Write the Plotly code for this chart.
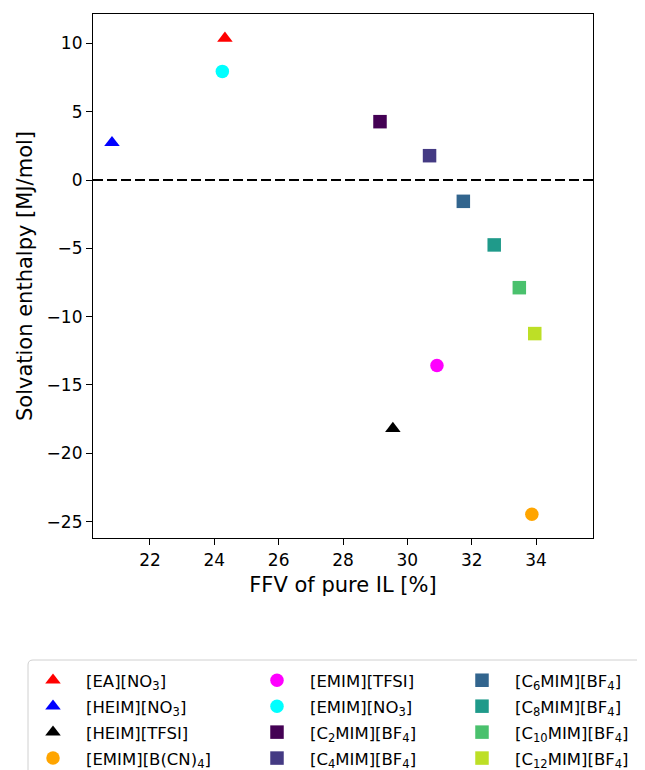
import plotly.graph_objects as go

# ---- data ----
names = ["[EA][NO<sub>3</sub>]", "[HEIM][NO<sub>3</sub>]", "[HEIM][TFSI]", "[EMIM][B(CN)<sub>4</sub>]",
         "[EMIM][TFSI]", "[EMIM][NO<sub>3</sub>]", "[C<sub>2</sub>MIM][BF<sub>4</sub>]", "[C<sub>4</sub>MIM][BF<sub>4</sub>]",
         "[C<sub>6</sub>MIM][BF<sub>4</sub>]", "[C<sub>8</sub>MIM][BF<sub>4</sub>]", "[C<sub>10</sub>MIM][BF<sub>4</sub>]", "[C<sub>12</sub>MIM][BF<sub>4</sub>]"]
ffv = [24.33, 20.82, 29.55, 33.87, 30.92, 24.25, 29.15, 30.69, 31.74, 32.70, 33.48, 33.96]
enthalpy = [10.37, 2.73, -18.19, -24.46, -13.58, 7.95, 4.27, 1.78, -1.56, -4.75, -7.88, -11.24]
symbols = ["triangle-up", "triangle-up", "triangle-up", "circle", "circle", "circle",
           "square", "square", "square", "square", "square", "square"]
colors = ["#ff0000", "#0000ff", "#000000", "#ffa500", "#ff00ff", "#00ffff",
          "#440154", "#443a83", "#32658e", "#1f9a8a", "#4ac16d", "#bddf26"]
legend_ids = ["legend"] * 4 + ["legend2"] * 4 + ["legend3"] * 4
x_ticks = [22, 24, 26, 28, 30, 32, 34]
y_ticks = [-25, -20, -15, -10, -5, 0, 5, 10]

sizes = {"triangle-up": 13.5, "circle": 13.5, "square": 13.5}

fig = go.Figure()
for i, (n, x, y, s, c, lg) in enumerate(zip(names, ffv, enthalpy, symbols, colors, legend_ids)):
    fig.add_trace(go.Scatter(x=[x], y=[y], mode="markers", name=n, legend=lg, legendgroup=f"g{i}",
                             marker=dict(symbol=s, color=c, size=sizes[s], line=dict(width=0))))

fig.add_hline(y=0, line=dict(color="black", width=2, dash="10px,4px"))

# legend frame (screen px -> paper coords; plot area spans x 93..593, y 14..538)
def px(xs):
    return (xs - 93) / 500

def py(ys):
    return (538 - ys) / 524

r = 5
frame_path = (f"M {px(28)},{py(800)} L {px(28)},{py(660 + r)} "
              f"Q {px(28)},{py(660)} {px(28 + r)},{py(660)} "
              f"L {px(700)},{py(660)} L {px(700)},{py(800)} Z")
fig.add_shape(type="path", xref="paper", yref="paper", path=frame_path,
              line=dict(color="#d0d0d0", width=1), fillcolor="rgba(255,255,255,0.8)", layer="below")

font = dict(family="DejaVu Sans", size=16.5, color="black")
leg_common = dict(xanchor="left", yanchor="top", bgcolor="rgba(0,0,0,0)", borderwidth=0,
                  font=font, itemwidth=56, tracegroupgap=1.5)
ly = py(663)
fig.update_layout(
    width=637, height=762,
    margin=dict(l=85, r=52, t=6, b=232, autoexpand=False),
    plot_bgcolor="white", paper_bgcolor="white",
    font=dict(family="DejaVu Sans", size=17, color="black"),
    legend=dict(x=px(20), y=ly, **leg_common),
    legend2=dict(x=px(244), y=ly, **leg_common),
    legend3=dict(x=px(449), y=ly, **leg_common),
    xaxis=dict(range=[20.23, 35.77], tickvals=x_ticks, ticks="outside", ticklen=6, tickwidth=1.2,
               tickcolor="black", showline=True, linecolor="black", linewidth=1.2, mirror=True,
               showgrid=False, zeroline=False, tickfont=dict(size=17),
               title=dict(text="FFV of pure IL [%]", font=dict(family="DejaVu Sans", size=21), standoff=8)),
    yaxis=dict(range=[-26.2, 12.15], tickvals=y_ticks, ticks="outside", ticklen=6, tickwidth=1.2,
               tickcolor="black", showline=True, linecolor="black", linewidth=1.2, mirror=True,
               showgrid=False, zeroline=False, tickformat="d", tickfont=dict(size=17),
               title=dict(text="Solvation enthalpy [MJ/mol]", font=dict(family="DejaVu Sans", size=21), standoff=8)),
)

fig.write_html("out.html")
